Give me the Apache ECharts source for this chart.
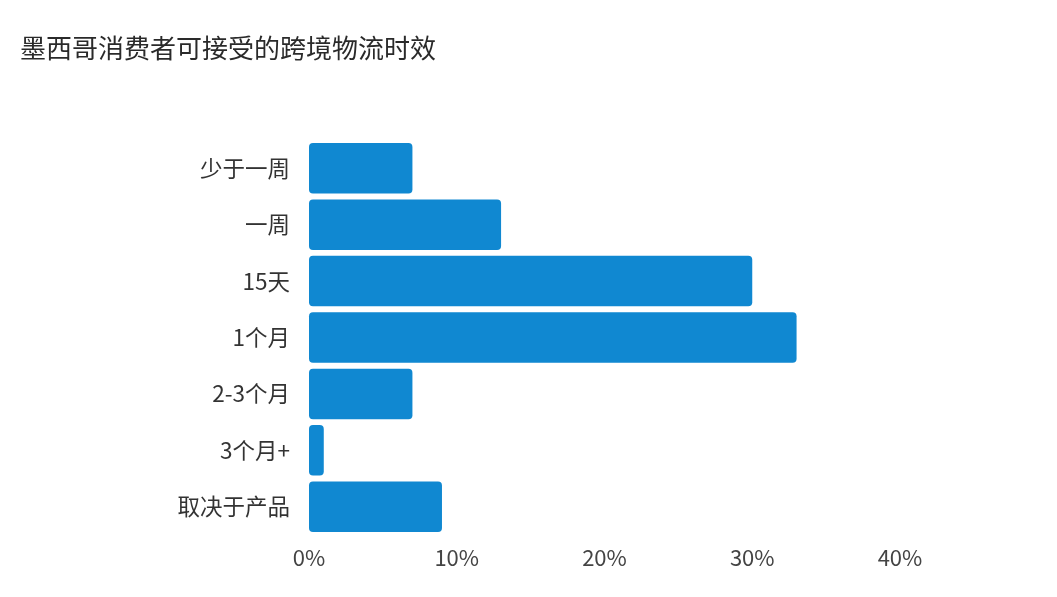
<!DOCTYPE html>
<html>
<head>
<meta charset="utf-8">
<script src="https://cdn.jsdelivr.net/npm/echarts@6/dist/echarts.min.js"></script>
<style>html,body{margin:0;padding:0;background:#fff;}#chart{width:1057px;height:597px;}</style>
</head>
<body>
<div id="chart"></div>
<script>
const titleText = '墨西哥消费者可接受的跨境物流时效';
const categories = ['少于一周', '一周', '15天', '1个月', '2-3个月', '3个月+', '取决于产品'];
const values = [7, 13, 30, 33, 7, 1, 9];
const xTicks = [0, 10, 20, 30, 40];

const font = '"Noto Sans CJK SC", "Noto Sans", sans-serif';
const chart = echarts.init(document.getElementById('chart'));
chart.setOption({
  backgroundColor: '#ffffff',
  animation: false,
  title: {
    text: titleText,
    left: 15,
    top: 30,
    textStyle: { fontFamily: font, fontSize: 26, fontWeight: 'normal', color: '#2a2a2a' }
  },
  grid: { left: 309, right: 157, top: 140, bottom: 62, containLabel: false },
  xAxis: {
    type: 'value',
    min: xTicks[0],
    max: xTicks[xTicks.length - 1],
    interval: 10,
    axisLine: { show: false },
    axisTick: { show: false },
    splitLine: { show: false },
    axisLabel: {
      formatter: v => v + '%',
      fontFamily: font,
      fontSize: 22,
      color: '#444444',
      margin: 12
    }
  },
  yAxis: {
    type: 'category',
    data: categories,
    inverse: true,
    axisLine: { show: false },
    axisTick: { show: false },
    splitLine: { show: false },
    axisLabel: {
      fontFamily: font,
      fontSize: 22.5,
      color: '#333333',
      margin: 19
    }
  },
  series: [{
    type: 'bar',
    data: values,
    barCategoryGap: '10.5%',
    itemStyle: { color: '#1088d1', borderRadius: 4 }
  }]
});
</script>
</body>
</html>
